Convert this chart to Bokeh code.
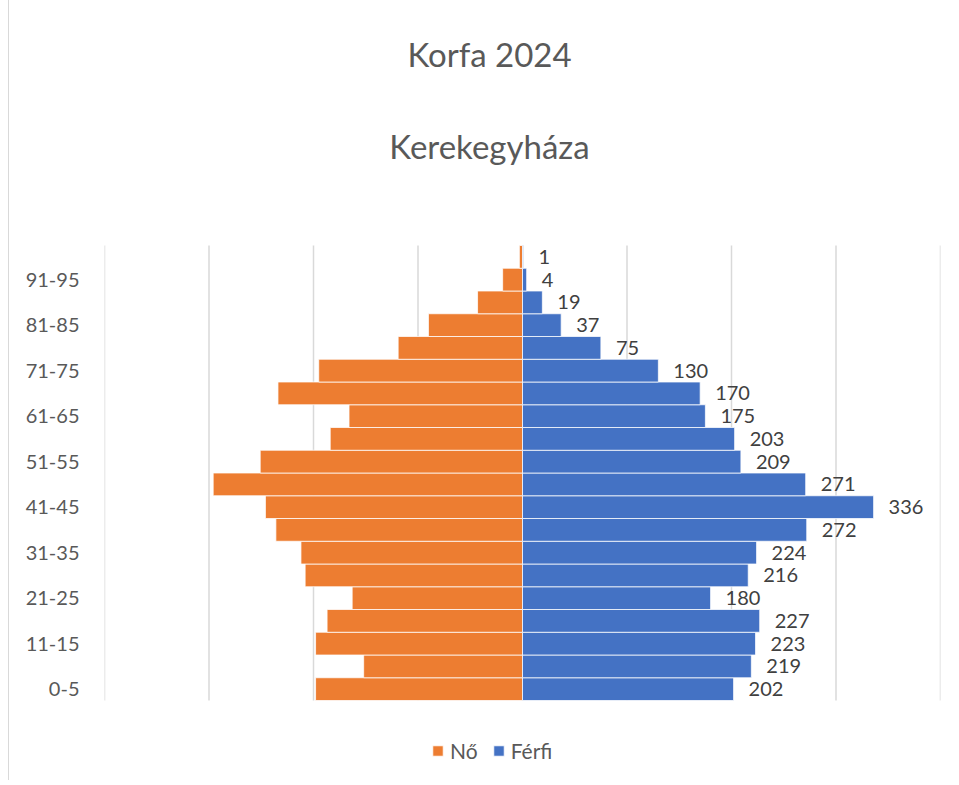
from bokeh.plotting import figure
from bokeh.models import FixedTicker, Label, Legend, LegendItem, ColumnDataSource
from bokeh.core.properties import value
from bokeh.embed import file_html
from bokeh.resources import INLINE

categories = ["0-5", "6-10", "11-15", "16-20", "21-25", "26-30", "31-35", "36-40",
              "41-45", "46-50", "51-55", "56-60", "61-65", "66-70", "71-75", "76-80",
              "81-85", "86-90", "91-95", "96-100"]
female = [198, 152, 198, 187, 163, 208, 212, 236, 246, 296, 251, 184, 166, 234, 195, 119, 90, 43, 19, 3]
male = [202, 219, 223, 227, 180, 216, 224, 272, 336, 271, 209, 203, 175, 170, 130, 75, 37, 19, 4, 1]
grid_ticks = [-400, -300, -200, -100, 0, 100, 200, 300, 400]
title_text = "Korfa 2024"
subtitle_text = "Kerekegyháza"

FONT = "Lato"
TXT = "#595959"
ORANGE = "#ED7D31"
BLUE = "#4472C4"

n = len(categories)
idx = list(range(n))
src = ColumnDataSource(dict(
    y=idx,
    female=[-v for v in female],
    male=male,
    mlabel=[str(v) for v in male],
))

# layout (pixels): frame spans the full height; category rows occupy y 245..700
H = 780
BOTTOM = 5
ROWS_TOP = 245
row_px = 22.75
frame_h = H - BOTTOM
y_end = (n - 0.5) + ROWS_TOP / row_px
y_start = y_end - frame_h / row_px
px_per_unit = 836 / 800.0

p = figure(width=943, height=H, x_range=(-400, 400), y_range=(y_start, y_end),
           output_backend="svg", toolbar_location=None, title=None,
           min_border_left=95, min_border_right=12, min_border_bottom=BOTTOM, min_border_top=0,
           margin=(0, 0, 0, 8))
p.styles = {"border-left": "1px solid #d9d9d9"}
p.outline_line_color = None

# grid (drawn only over the category rows)
p.xaxis.visible = False
p.xgrid.grid_line_color = None
p.ygrid.grid_line_color = None
gsrc = ColumnDataSource(dict(x=grid_ticks, y0=[-0.5] * len(grid_ticks), y1=[n - 0.5] * len(grid_ticks)))
p.segment(x0="x", x1="x", y0="y0", y1="y1", source=gsrc, line_color="#d9d9d9", line_width=1.5)

rf = p.hbar(y="y", left=0, right="female", height=1.0, source=src,
            fill_color=ORANGE, line_color="white", line_width=0.75)
rm = p.hbar(y="y", left=0, right="male", height=1.0, source=src,
            fill_color=BLUE, line_color="white", line_width=0.75)

p.text(x="male", y="y", text="mlabel", source=src, x_offset=15,
       text_baseline="middle", text_align="left", text_font=value(FONT),
       text_font_size="20px", text_color="#404040")

# y axis
yax = p.yaxis[0]
yax.ticker = FixedTicker(ticks=idx[::2])
yax.major_label_overrides = {i: categories[i] for i in idx}
yax.axis_line_color = None
yax.major_tick_line_color = None
yax.minor_tick_line_color = None
yax.major_label_standoff = 19
yax.major_label_text_font = FONT
yax.major_label_text_font_size = "20px"
yax.major_label_text_color = TXT

# titles, centred on the whole chart area (page x ~489)
cx = (489 - 522) / px_per_unit
for txt, py in ((title_text, 53), (subtitle_text, 145)):
    p.add_layout(Label(x=cx, y=(n - 0.5) + (ROWS_TOP - py) / row_px, text=txt,
                       text_align="center", text_baseline="middle", text_font=FONT,
                       text_font_size="33px", text_color=TXT))

legend = Legend(items=[LegendItem(label="Nő", renderers=[rf]), LegendItem(label="Férfi", renderers=[rm])],
                orientation="horizontal", location=(327, 12),
                label_text_font=FONT, label_text_font_size="21px", label_text_color=TXT,
                glyph_width=13, glyph_height=13, label_standoff=6, spacing=14,
                border_line_color=None, background_fill_alpha=0, padding=0, margin=0)
p.add_layout(legend, "center")

open("out.html", "w").write(file_html(p, INLINE))
